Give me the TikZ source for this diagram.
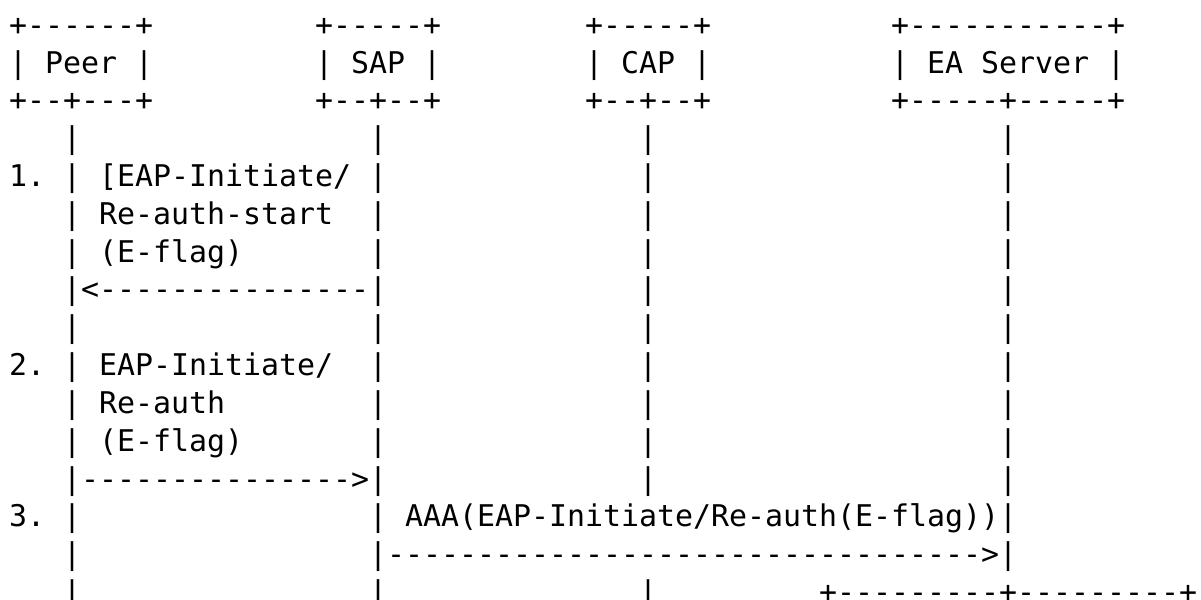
\documentclass[tikz,border=0pt]{standalone}
\usepackage{fontspec}
\setmonofont{DejaVu Sans Mono}
\usetikzlibrary{positioning}

\tikzset{
  ascii/.style={font=\ttfamily\fontsize{29.9}{37.83}\selectfont,
    inner sep=0pt, anchor=base west},
}

\begin{document}
\begin{tikzpicture}[x=18pt, y=-37.83pt]
  \path[use as bounding box, fill=white] (-0.5,0) rectangle (66.222,15.86);

  % entity boxes
  \node[ascii] (peertop) at (0,0.93) {+------+};
  \node[ascii] (peer)    at (0,1.93) {| Peer |};
  \node[ascii] (peerbot) at (0,2.93) {+--+---+};
  \node[ascii] (saptop)  at (17,0.93) {+-----+};
  \node[ascii] (sap)     at (17,1.93) {| SAP |};
  \node[ascii] (sapbot)  at (17,2.93) {+--+--+};
  \node[ascii] (captop)  at (32,0.93) {+-----+};
  \node[ascii] (cap)     at (32,1.93) {| CAP |};
  \node[ascii] (capbot)  at (32,2.93) {+--+--+};
  \node[ascii] (eatop)   at (49,0.93) {+-----------+};
  \node[ascii] (ea)      at (49,1.93) {| EA Server |};
  \node[ascii] (eabot)   at (49,2.93) {+-----+-----+};

  % life lines
  \foreach \r in {3,...,15} {
    \node[ascii] (peerlife\r) at (3,\r+0.93) {|};
    \node[ascii] (saplife\r)  at (20,\r+0.93) {|};
  }
  \foreach \r in {3,...,12,15}
    \node[ascii] (caplife\r) at (35,\r+0.93) {|};
  \foreach \r in {3,...,14}
    \node[ascii] (ealife\r) at (55,\r+0.93) {|};

  % step 1
  \node[ascii] (stepone) at (0,4.93) {1.};
  \node[ascii] (startone) at (5,4.93) {[EAP-Initiate/};
  \node[ascii] (starttwo) at (5,5.93) {Re-auth-start};
  \node[ascii] (startflag) at (5,6.93) {(E-flag)};
  \node[ascii] (startarrow) at (4,7.93) {<---------------};

  % step 2
  \node[ascii] (steptwo) at (0,9.93) {2.};
  \node[ascii] (reauthone) at (5,9.93) {EAP-Initiate/};
  \node[ascii] (reauthtwo) at (5,10.93) {Re-auth};
  \node[ascii] (reauthflag) at (5,11.93) {(E-flag)};
  \node[ascii] (reautharrow) at (4,12.93) {--------------->};

  % step 3
  \node[ascii] (stepthree) at (0,13.93) {3.};
  \node[ascii] (aaa) at (22,13.93) {AAA(EAP-Initiate/Re-auth(E-flag))};
  \node[ascii] (aaaarrow) at (21,14.93) {--------------------------------->};
  \node[ascii] (lowbox) at (45,15.93) {+---------+---------+};
\end{tikzpicture}
\end{document}
